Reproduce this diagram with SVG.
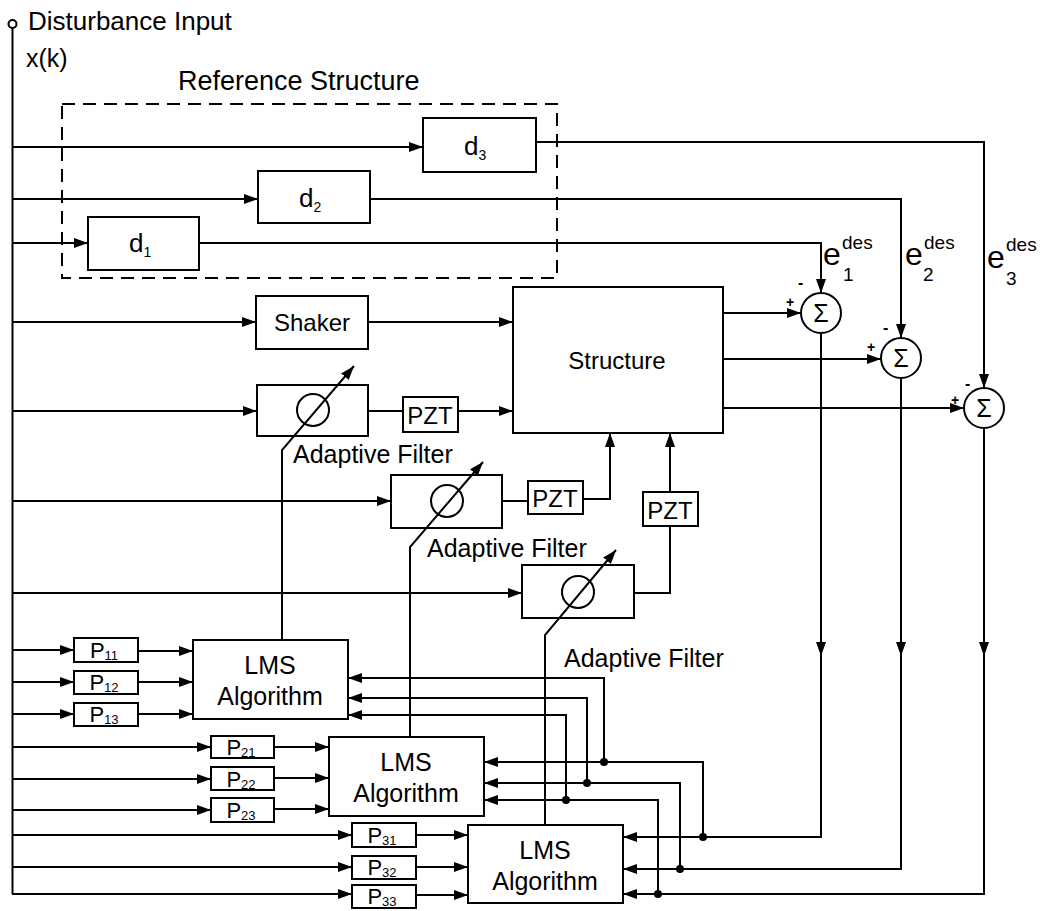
<svg xmlns="http://www.w3.org/2000/svg" width="1041" height="911" viewBox="0 0 1041 911">
<defs>
<style>
.ln{stroke:#000;stroke-width:2;fill:none}
.ar{stroke:#000;stroke-width:2;fill:none;marker-end:url(#ah)}
.bx{fill:#fff;stroke:#000;stroke-width:2}
.t{font-family:"Liberation Sans",Arial,sans-serif;fill:#000}
.c{text-anchor:middle}
.s{font-weight:bold}
.dot{fill:#000}
</style>
<marker id="ah" markerUnits="userSpaceOnUse" markerWidth="14" markerHeight="10" refX="14" refY="5" orient="auto" viewBox="0 0 14 10">
<path d="M0,0 L14,5 L0,10 z" fill="#000"/>
</marker>
</defs>
<rect width="1041" height="911" fill="#fff"/>

<g id="labels">
<circle cx="12.5" cy="24" r="4" fill="none" stroke="#000" stroke-width="2"/>
<text class="t" x="28" y="30" font-size="26">Disturbance Input</text>
<text class="t" x="26" y="67" font-size="25">x(k)</text>
</g>

<g id="reference-structure">
<rect x="62" y="104" width="495" height="174" fill="none" stroke="#000" stroke-width="2" stroke-dasharray="13 8"/>
<text class="t" x="178" y="90" font-size="27">Reference Structure</text>
</g>

<g id="d3"><rect class="bx" x="423" y="118" width="113" height="54"/><text class="t" x="464" y="155" font-size="26">d<tspan font-size="14" dy="5">3</tspan></text></g>
<g id="d2"><rect class="bx" x="258" y="171" width="112" height="52"/><text class="t" x="299" y="207" font-size="26">d<tspan font-size="14" dy="5">2</tspan></text></g>
<g id="d1"><rect class="bx" x="88" y="217" width="111" height="53"/><text class="t" x="129" y="252" font-size="26">d<tspan font-size="14" dy="5">1</tspan></text></g>

<g id="shaker"><rect class="bx" x="256" y="296" width="112" height="53"/><text class="t c" x="312" y="331" font-size="24">Shaker</text></g>
<g id="structure"><rect class="bx" x="513" y="287" width="210" height="146"/><text class="t c" x="617" y="369" font-size="24">Structure</text></g>

<g id="af1"><rect class="bx" x="257" y="385" width="111" height="51"/><circle cx="313" cy="410" r="16" fill="none" stroke="#000" stroke-width="2"/><text class="t" x="293" y="463" font-size="25">Adaptive Filter</text></g>
<g id="pzt1"><rect class="bx" x="403" y="397" width="55" height="35"/><text class="t c" x="430" y="424" font-size="24">PZT</text></g>
<g id="af2"><rect class="bx" x="391" y="475" width="111" height="53"/><circle cx="447" cy="501" r="16" fill="none" stroke="#000" stroke-width="2"/><text class="t" x="427" y="557" font-size="25">Adaptive Filter</text></g>
<g id="pzt2"><rect class="bx" x="528" y="481" width="55" height="33"/><text class="t c" x="555" y="507" font-size="24">PZT</text></g>
<g id="pzt3"><rect class="bx" x="643" y="492" width="55" height="34"/><text class="t c" x="670" y="519" font-size="24">PZT</text></g>
<g id="af3"><rect class="bx" x="522" y="565" width="112" height="53"/><circle cx="578" cy="592" r="16" fill="none" stroke="#000" stroke-width="2"/><text class="t" x="564" y="667" font-size="25">Adaptive Filter</text></g>

<g id="sum1"><circle class="bx" cx="821" cy="313" r="20"/><text class="t c" x="821" y="322" font-size="25">Σ</text><text class="t s" x="798" y="288" font-size="16">-</text><text class="t s" x="786" y="307" font-size="14">+</text></g>
<g id="sum2"><circle class="bx" cx="901" cy="358" r="20"/><text class="t c" x="901" y="367" font-size="25">Σ</text><text class="t s" x="883" y="333" font-size="16">-</text><text class="t s" x="867" y="352" font-size="14">+</text></g>
<g id="sum3"><circle class="bx" cx="984" cy="408" r="20"/><text class="t c" x="984" y="417" font-size="25">Σ</text><text class="t s" x="965" y="389" font-size="16">-</text><text class="t s" x="951" y="405" font-size="14">+</text></g>

<g id="e-labels">
<text class="t" font-size="32"><tspan x="823" y="265">e</tspan><tspan x="842" y="249" font-size="19">des</tspan><tspan x="843" y="281" font-size="19">1</tspan></text>
<text class="t" font-size="32"><tspan x="905" y="265">e</tspan><tspan x="924" y="249" font-size="19">des</tspan><tspan x="923" y="281" font-size="19">2</tspan></text>
<text class="t" font-size="32"><tspan x="987" y="268">e</tspan><tspan x="1006" y="251" font-size="19">des</tspan><tspan x="1006" y="285" font-size="19">3</tspan></text>
</g>

<g id="p11"><rect class="bx" x="74" y="638" width="64" height="24"/><text class="t c" x="104" y="658" font-size="22">P<tspan font-size="13" dy="2">11</tspan></text></g>
<g id="p12"><rect class="bx" x="74" y="671" width="64" height="23"/><text class="t c" x="104" y="690" font-size="22">P<tspan font-size="13" dy="2">12</tspan></text></g>
<g id="p13"><rect class="bx" x="74" y="703" width="64" height="23"/><text class="t c" x="104" y="722" font-size="22">P<tspan font-size="13" dy="2">13</tspan></text></g>
<g id="lms1"><rect class="bx" x="193" y="640" width="155" height="79"/><text class="t c" x="270" y="674" font-size="25">LMS</text><text class="t c" x="270" y="705" font-size="25">Algorithm</text></g>

<g id="p21"><rect class="bx" x="211" y="736" width="63" height="22"/><text class="t c" x="241" y="755" font-size="22">P<tspan font-size="13" dy="2">21</tspan></text></g>
<g id="p22"><rect class="bx" x="211" y="767" width="63" height="23"/><text class="t c" x="241" y="787" font-size="22">P<tspan font-size="13" dy="2">22</tspan></text></g>
<g id="p23"><rect class="bx" x="211" y="798" width="63" height="24"/><text class="t c" x="241" y="818" font-size="22">P<tspan font-size="13" dy="2">23</tspan></text></g>
<g id="lms2"><rect class="bx" x="329" y="737" width="155" height="79"/><text class="t c" x="406" y="771" font-size="25">LMS</text><text class="t c" x="406" y="802" font-size="25">Algorithm</text></g>

<g id="p31"><rect class="bx" x="352" y="823" width="64" height="24"/><text class="t c" x="382" y="843" font-size="22">P<tspan font-size="13" dy="2">31</tspan></text></g>
<g id="p32"><rect class="bx" x="352" y="856" width="64" height="23"/><text class="t c" x="382" y="875" font-size="22">P<tspan font-size="13" dy="2">32</tspan></text></g>
<g id="p33"><rect class="bx" x="352" y="885" width="64" height="23"/><text class="t c" x="382" y="904" font-size="22">P<tspan font-size="13" dy="2">33</tspan></text></g>
<g id="lms3"><rect class="bx" x="468" y="825" width="155" height="78"/><text class="t c" x="545" y="859" font-size="25">LMS</text><text class="t c" x="545" y="890" font-size="25">Algorithm</text></g>

<g id="connectors">
<path class="ln" d="M12.5,28 V894"/>
<path class="ar" d="M12,147 H423"/>
<path class="ar" d="M12,199 H258"/>
<path class="ar" d="M12,243 H88"/>
<path class="ar" d="M12,322 H256"/>
<path class="ar" d="M12,411 H257"/>
<path class="ar" d="M12,501 H391"/>
<path class="ar" d="M12,593 H522"/>
<path class="ar" d="M12,650 H74"/>
<path class="ar" d="M12,682 H74"/>
<path class="ar" d="M12,714 H74"/>
<path class="ar" d="M12,747 H211"/>
<path class="ar" d="M12,779 H211"/>
<path class="ar" d="M12,810 H211"/>
<path class="ar" d="M12,835 H352"/>
<path class="ar" d="M12,867 H352"/>
<path class="ar" d="M12,894 H352"/>
<path class="ar" d="M138,651 H193"/>
<path class="ar" d="M138,682 H193"/>
<path class="ar" d="M138,714 H193"/>
<path class="ar" d="M274,747 H329"/>
<path class="ar" d="M274,778 H329"/>
<path class="ar" d="M274,809 H329"/>
<path class="ar" d="M416,835 H468"/>
<path class="ar" d="M416,867 H468"/>
<path class="ar" d="M416,895 H468"/>
<path class="ar" d="M536,142 H984 V388"/>
<path class="ar" d="M370,199 H901 V338"/>
<path class="ar" d="M199,243 H821 V293"/>
<path class="ar" d="M368,322 H513"/>
<path class="ln" d="M368,411 H403"/>
<path class="ar" d="M458,411 H513"/>
<path class="ln" d="M502,501 H528"/>
<path class="ar" d="M583,499 H610 V433"/>
<path class="ar" d="M670,492 V433"/>
<path class="ln" d="M634,593 H670 V526"/>
<path class="ar" d="M723,313 H801"/>
<path class="ar" d="M723,359 H881"/>
<path class="ar" d="M723,408 H964"/>
<path class="ar" d="M821,333 V656"/>
<path class="ar" d="M821,650 V837 H623"/>
<path class="ar" d="M901,378 V656"/>
<path class="ar" d="M901,650 V869 H623"/>
<path class="ar" d="M984,428 V656"/>
<path class="ar" d="M984,650 V894 H623"/>
<path class="ar" d="M703,837 V762 H484"/>
<path class="ar" d="M604,762 V678 H348"/>
<path class="ar" d="M680,869 V783 H484"/>
<path class="ar" d="M587,783 V698 H348"/>
<path class="ar" d="M658,894 V800 H484"/>
<path class="ar" d="M566,800 V715 H348"/>
<path class="ar" d="M282,640 V450 L354,366"/>
<path class="ar" d="M410,737 V547 L483,462"/>
<path class="ar" d="M545,825 V635 L616,550"/>
<circle class="dot" cx="703" cy="837" r="4"/>
<circle class="dot" cx="680" cy="869" r="4"/>
<circle class="dot" cx="658" cy="894" r="4"/>
<circle class="dot" cx="604" cy="762" r="4"/>
<circle class="dot" cx="587" cy="783" r="4"/>
<circle class="dot" cx="566" cy="800" r="4"/>
</g>
</svg>
